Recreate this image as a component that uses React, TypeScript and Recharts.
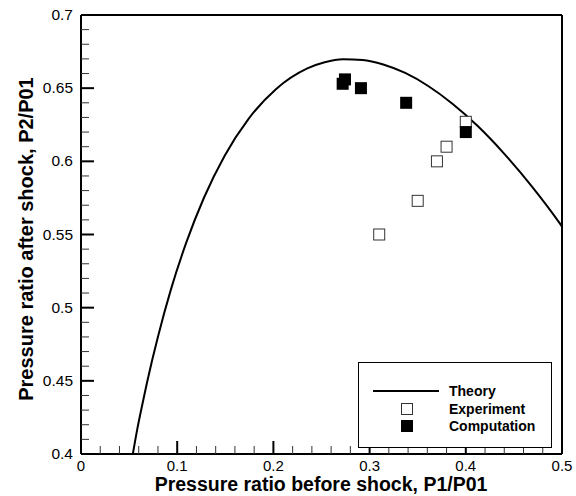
import React from "react";
import {
  ComposedChart,
  Line,
  Scatter,
  XAxis,
  YAxis,
  ReferenceLine,
} from "recharts";

// theory curve
const THEORY_X = [
  0.0539, 0.0585, 0.0633, 0.0684, 0.074, 0.08, 0.0935, 0.1094, 0.1278, 0.1492,
  0.174, 0.2026, 0.2353, 0.2533, 0.2724, 0.2927, 0.3142, 0.337, 0.3609, 0.3861,
  0.4124, 0.4398, 0.4684, 0.4979, 0.5,
];
const THEORY_Y = [
  0.4, 0.417, 0.4325, 0.4482, 0.4642, 0.4802, 0.5125, 0.5444, 0.5751, 0.6037,
  0.6289, 0.6493, 0.6635, 0.6677, 0.6697, 0.6692, 0.6662, 0.6604, 0.6515, 0.6394,
  0.6241, 0.6053, 0.5831, 0.5574, 0.5554,
];

const EXP_X = [0.31, 0.35, 0.37, 0.38, 0.4];
const EXP_Y = [0.55, 0.573, 0.6, 0.61, 0.627];

const COMP_X = [0.272, 0.2744, 0.291, 0.338, 0.4];
const COMP_Y = [0.653, 0.656, 0.65, 0.64, 0.62];

const X_TICKS = [
  0, 0.02, 0.04, 0.06, 0.08, 0.1, 0.12, 0.14, 0.16, 0.18, 0.2, 0.22, 0.24, 0.26,
  0.28, 0.3, 0.32, 0.34, 0.36, 0.38, 0.4, 0.42, 0.44, 0.46, 0.48, 0.5,
];
const Y_TICKS = [
  0.4, 0.41, 0.42, 0.43, 0.44, 0.45, 0.46, 0.47, 0.48, 0.49, 0.5, 0.51, 0.52,
  0.53, 0.54, 0.55, 0.56, 0.57, 0.58, 0.59, 0.6, 0.61, 0.62, 0.63, 0.64, 0.65,
  0.66, 0.67, 0.68, 0.69, 0.7,
];

const theory = THEORY_X.map((x, i) => ({ x, y: THEORY_Y[i] }));
const experiment = EXP_X.map((x, i) => ({ x, y: EXP_Y[i] }));
const computation = COMP_X.map((x, i) => ({ x, y: COMP_Y[i] }));

const FONT = "'Liberation Sans', Arial, sans-serif";

function XTick(props: any) {
  const { x, y, payload } = props;
  const v = payload.value as number;
  const major = Math.round(v * 100) % 10 === 0;
  return (
    <g>
      <line
        x1={x}
        x2={x}
        y1={y}
        y2={y - (major ? 13 : 8)}
        stroke={major ? "#000" : "#333"}
        strokeWidth={major ? 2 : 1}
      />
      {major && (
        <text x={x} y={y + 17} textAnchor="middle" fontSize={15} fontFamily={FONT} fill="#000">
          {String(v)}
        </text>
      )}
    </g>
  );
}

function YTick(props: any) {
  const { x, y, payload } = props;
  const v = payload.value as number;
  const major = Math.round(v * 100) % 5 === 0;
  return (
    <g>
      <line
        x1={x}
        x2={x + (major ? 13 : 8)}
        y1={y}
        y2={y}
        stroke={major ? "#000" : "#333"}
        strokeWidth={major ? 2 : 1}
      />
      {major && (
        <text x={x - 8} y={y + 5} textAnchor="end" fontSize={15.5} fontFamily={FONT} fill="#000">
          {String(v)}
        </text>
      )}
    </g>
  );
}

const OpenSquare = (props: any) => (
  <rect x={props.cx - 5.5} y={props.cy - 5.5} width={11} height={11} fill="#fff" stroke="#333" strokeWidth={1} />
);
const FilledSquare = (props: any) => (
  <rect x={props.cx - 6} y={props.cy - 6} width={12} height={12} fill="#000" />
);

export default function App() {
  return (
    <div style={{ position: "absolute", left: 0, top: 0, width: 576, height: 496, background: "#fff" }}>
      <ComposedChart width={576} height={496} margin={{ top: 15, right: 14, bottom: 0, left: 0 }}>
        <XAxis
          dataKey="x"
          type="number"
          domain={[0, 0.5]}
          ticks={X_TICKS}
          interval={0}
          allowDataOverflow
          height={42}
          tickSize={0}
          tickMargin={0}
          tick={XTick}
          tickLine={false}
          axisLine={{ stroke: "#000", strokeWidth: 2 }}
        />
        <YAxis
          dataKey="y"
          type="number"
          domain={[0.4, 0.7]}
          ticks={Y_TICKS}
          interval={0}
          allowDataOverflow
          width={81}
          tickSize={0}
          tickMargin={0}
          tick={YTick}
          tickLine={false}
          axisLine={{ stroke: "#000", strokeWidth: 2 }}
        />
        <ReferenceLine y={0.7} stroke="#000" strokeWidth={2} />
        <ReferenceLine x={0.5} stroke="#000" strokeWidth={2} />
        <Line
          data={theory}
          dataKey="y"
          type="monotone"
          stroke="#000"
          strokeWidth={2}
          dot={false}
          isAnimationActive={false}
        />
        <Scatter data={experiment} dataKey="y" shape={OpenSquare} isAnimationActive={false} />
        <Scatter data={computation} dataKey="y" shape={FilledSquare} isAnimationActive={false} />
      </ComposedChart>

      <svg
        width={576}
        height={496}
        style={{ position: "absolute", left: 0, top: 0, pointerEvents: "none" }}
        fontFamily={FONT}
      >
        <text x={321} y={491} textAnchor="middle" fontSize={19.5} fontWeight="bold">
          Pressure ratio before shock, P1/P01
        </text>
        <text x={33} y={239} textAnchor="middle" fontSize={20} fontWeight="bold" transform="rotate(-90, 33, 239)">
          Pressure ratio after shock, P2/P01
        </text>

        {/* legend */}
        <rect x={358.5} y={362.5} width={193} height={85} fill="#fff" stroke="#000" strokeWidth={1} />
        <line x1={373} x2={439} y1={391} y2={391} stroke="#000" strokeWidth={2} />
        <rect x={401.5} y={403.5} width={11} height={11} fill="#fff" stroke="#333" strokeWidth={1} />
        <rect x={401} y={420} width={12} height={12} fill="#000" />
        <text x={449} y={396} fontSize={14} fontWeight="bold">Theory</text>
        <text x={449} y={414} fontSize={14} fontWeight="bold">Experiment</text>
        <text x={449} y={431} fontSize={14} fontWeight="bold">Computation</text>
      </svg>
    </div>
  );
}
